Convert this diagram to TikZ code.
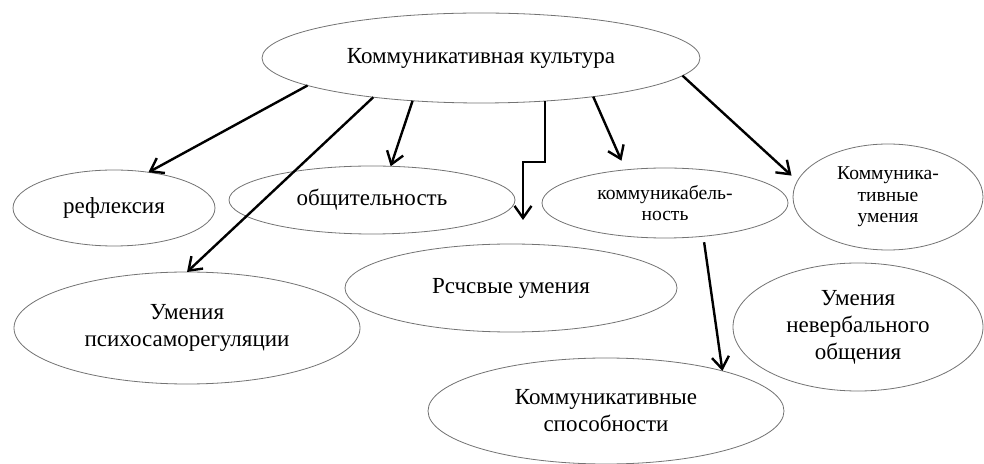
\documentclass[tikz,border=0pt]{standalone}
\usepackage{fontspec}
\setmainfont{Liberation Serif}
\usetikzlibrary{shapes.geometric,arrows.meta}
\tikzstyle{concept}=[ellipse, draw=black!55, line width=0.4pt, fill=white, inner sep=0pt, outer sep=0pt, align=center, font=\fontsize{11.5}{13.5}\selectfont]
\tikzstyle{smalltext}=[font=\fontsize{9.8}{10.8}\selectfont]
\tikzstyle{link}=[line width=1.2pt, -{Straight Barb[length=6pt,width=8.5pt]}]

\begin{document}
\begin{tikzpicture}[x=0.5pt, y=-0.5pt]
				\useasboundingbox (0,0) rectangle (984,464);

				\node[concept, minimum width=219pt, minimum height=45pt] (kult) at (481,58) {Коммуникативная культура};

				\node[concept, minimum width=101pt, minimum height=38pt] (refl) at (114,208) {рефлексия};
				\node[concept, minimum width=143pt, minimum height=34pt] (obsh) at (372,200) {общительность};
				\node[concept, smalltext, minimum width=123pt, minimum height=35pt] (kommb) at (665,203) {коммуникабель-\\ность};
				\node[concept, smalltext, minimum width=95pt, minimum height=53pt] (kumen) at (888,197) {Коммуника-\\тивные\\умения};

				\node[concept, minimum width=173pt, minimum height=56pt] (psycho) at (187,328) {Умения\\психосаморегуляции};
				\node[concept, minimum width=166pt, minimum height=44pt] (rech) at (511,288) {Рсчсвые умения};
				\node[concept, minimum width=125pt, minimum height=64pt] (nonverb) at (858,327) {Умения\\невербального\\общения};
				\node[concept, minimum width=178pt, minimum height=53pt] (sposob) at (606,411) {Коммуникативные\\способности};

				\coordinate (rech-in) at (523,220);

				\draw[link] (kult.189) -- (refl.46);
				\draw[link] (kult.200) -- (psycho.north);
				\draw[link] (kult.212) -- (obsh.61);
				\draw[link] (kult.326) -- ++(0,61) -| (rech-in);
				\draw[link, shorten >=5pt] (kult.341) -- (kommb.140);
				\draw[link, shorten >=4pt] (kult.355) -- (kumen.170);
				\draw[link, shorten <=3pt] (kommb.319) -- (sposob.19);
			\end{tikzpicture}
\end{document}
